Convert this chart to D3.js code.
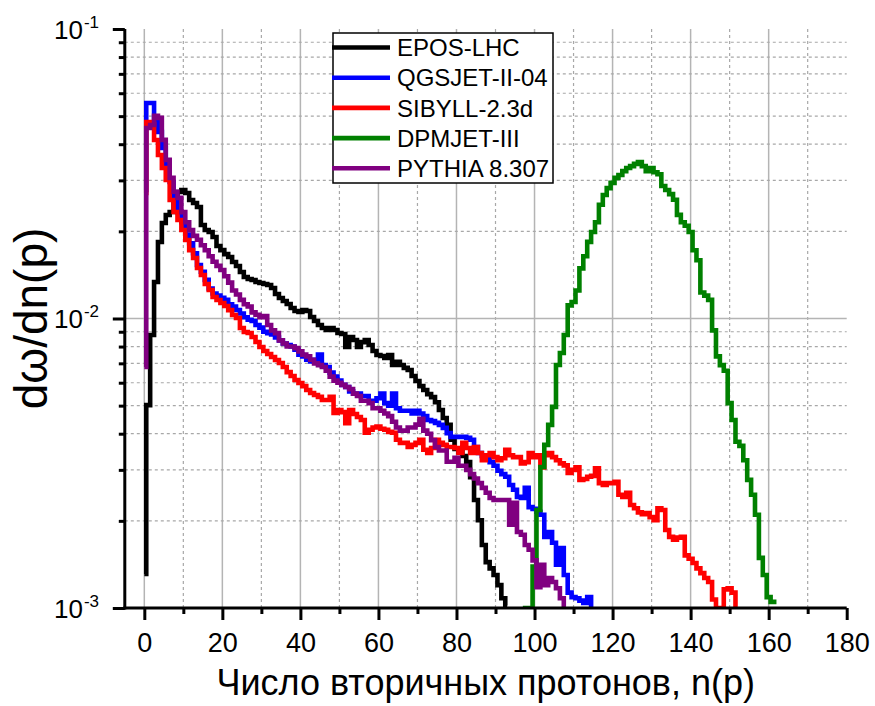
<!DOCTYPE html>
<html><head><meta charset="utf-8">
<script src="https://cdn.jsdelivr.net/npm/d3@7"></script>
<style>body{margin:0;background:#fff}text{font-family:"Liberation Sans",Arial,sans-serif;fill:#000}</style>
</head><body>
<svg id="chart" width="875" height="706"></svg>
<script>
// ---------- DATA ----------
const seriesNames = ["EPOS-LHC", "QGSJET-II-04", "SIBYLL-2.3d", "DPMJET-III", "PYTHIA 8.307"];
// first bin n(p) of each series
const seriesStart = [0, 0, 0, 97, 0];
const eposValues = [
0.00131,0.00502,0.00877,0.01337,0.01837,0.02138,0.02278,0.02333,0.02671,0.02735,
0.02779,0.02714,0.02566,0.02506,0.02427,0.02104,0.02021,0.01989,0.01912,0.01779,
0.01723,0.01669,0.01630,0.01567,0.01518,0.01447,0.01391,0.01369,0.01358,0.01337,
0.01327,0.01316,0.01306,0.01275,0.01215,0.01177,0.01149,0.01122,0.01087,0.01061,
0.01053,0.01070,0.01061,0.01012,0.00980,0.00950,0.00927,0.00913,0.00927,0.00913,
0.00891,0.00884,0.00797,0.00863,0.00843,0.00797,0.00829,0.00843,0.00810,0.00772,
0.00748,0.00742,0.00730,0.00748,0.00691,0.00708,0.00691,0.00675,0.00664,0.00633,
0.00608,0.00584,0.00566,0.00548,0.00535,0.00514,0.00483,0.00453,0.00429,0.00381,
0.00354,0.00346,0.00335,0.00319,0.00283,0.00236,0.00201,0.00165,0.00144,0.00137,
0.00130,0.00120,0.00108,0.00102];
const qgsjetValues = [
0.0278,0.0555,0.0555,0.0493,0.0441,0.0388,0.0339,0.0296,0.0261,0.0233,
0.0215,0.0195,0.0182,0.0168,0.0153,0.0145,0.0136,0.0127,0.0122,0.0120,
0.0118,0.0116,0.0112,0.0110,0.0107,0.0104,0.0101,0.0099,0.0098,0.0095,
0.0093,0.0090,0.0089,0.0088,0.0086,0.0084,0.0082,0.0081,0.0080,0.0078,
0.0075,0.0074,0.0072,0.0071,0.0072,0.0075,0.0069,0.0068,0.0065,0.0063,
0.0061,0.0059,0.0058,0.0056,0.0055,0.0055,0.0054,0.0054,0.0052,0.0052,
0.0053,0.0055,0.0051,0.0050,0.0055,0.0049,0.0048,0.0048,0.0048,0.0047,
0.0048,0.0047,0.0046,0.00446,0.00442,0.00436,0.00429,0.00419,0.00402,0.00390,
0.00390,0.00390,0.00390,0.00387,0.00381,0.00360,0.00343,0.00335,0.00332,0.00319,
0.00310,0.00298,0.00290,0.00284,0.00266,0.00256,0.00242,0.00240,0.00260,0.00223,
0.00220,0.00215,0.00210,0.00176,0.00183,0.00168,0.00141,0.00161,0.00130,0.00113,
0.00109,0.00108,0.00106,0.00104,0.00109,0.00100];
const sibyllValues = [
0.02712,0.04773,0.04698,0.04136,0.03670,0.03309,0.03008,0.02566,0.02332,0.02188,
0.02021,0.01866,0.01723,0.01618,0.01494,0.01413,0.01315,0.01254,0.01186,0.01158,
0.01131,0.01104,0.01069,0.01028,0.01004,0.00927,0.00898,0.00891,0.00863,0.00830,
0.00797,0.00772,0.00754,0.00736,0.00719,0.00702,0.00680,0.00653,0.00633,0.00613,
0.00599,0.00584,0.00566,0.00553,0.00544,0.00536,0.00523,0.00523,0.00536,0.00472,
0.00483,0.00475,0.00435,0.00483,0.00468,0.00457,0.00446,0.00403,0.00413,0.00420,
0.00423,0.00416,0.00413,0.00406,0.00403,0.00381,0.00372,0.00372,0.00360,0.00366,
0.00372,0.00381,0.00352,0.00343,0.00357,0.00381,0.00372,0.00366,0.00360,0.00360,
0.00357,0.00343,0.00372,0.00357,0.00343,0.00360,0.00343,0.00324,0.00337,0.00343,
0.00332,0.00324,0.00329,0.00352,0.00337,0.00332,0.00332,0.00316,0.00319,0.00343,
0.00332,0.00337,0.00306,0.00337,0.00343,0.00332,0.00324,0.00316,0.00311,0.00293,
0.00300,0.00306,0.00277,0.00279,0.00284,0.00286,0.00304,0.00270,0.00266,0.00270,
0.00270,0.00273,0.00246,0.00242,0.00250,0.00227,0.00221,0.00214,0.00211,0.00213,
0.00206,0.00201,0.00221,0.00218,0.00186,0.00176,0.00172,0.00175,0.00176,0.00152,
0.00148,0.00143,0.00137,0.00132,0.00127,0.00123,0.00107,0.00100,0.00100,0.00116,
0.00117,0.00113,0.00101];
const dpmjetValues = [
0.00100,0.00100,0.00100,0.00139,0.00218,0.00307,0.00366,0.00429,0.00495,0.00691,
0.00760,0.00877,0.0111,0.0114,0.0125,0.0149,0.0164,0.0184,0.0199,0.0215,
0.0247,0.0267,0.0282,0.0294,0.0306,0.0313,0.0323,0.0331,0.0336,0.0342,
0.0347,0.0336,0.0323,0.0331,0.0320,0.0315,0.0287,0.0278,0.0269,0.0257,
0.0228,0.0215,0.0209,0.0199,0.0172,0.0159,0.0123,0.0120,0.0116,0.0091,
0.0074,0.0069,0.0066,0.0051,0.00446,0.00375,0.00363,0.00324,0.00277,0.00246,
0.00210,0.00149,0.00130,0.00109,0.00105,0.00105];
const pythiaValues = [
0.0068,0.0455,0.0466,0.0501,0.0493,0.0414,0.0353,0.0306,0.0274,0.0261,
0.0233,0.0215,0.0202,0.0193,0.0187,0.0179,0.0172,0.0164,0.0157,0.0152,
0.0147,0.0140,0.0133,0.0125,0.0121,0.0116,0.0112,0.0110,0.0105,0.0103,
0.0101,0.0102,0.0095,0.0091,0.0089,0.0084,0.0082,0.0080,0.0080,0.0079,
0.0077,0.0075,0.0074,0.0072,0.0070,0.0069,0.0068,0.0066,0.0063,0.0061,
0.0060,0.0059,0.0058,0.0057,0.0055,0.0054,0.0052,0.0052,0.0051,0.0049,
0.0049,0.0048,0.0047,0.0046,0.0044,0.0042,0.0041,0.0041,0.0042,0.0042,
0.0043,0.0045,0.0041,0.0040,0.0038,0.0036,0.0035,0.0035,0.0032,0.0032,
0.0033,0.0031,0.0031,0.0030,0.0029,0.0028,0.0027,0.0026,0.0025,0.0024,
0.00236,0.00236,0.00236,0.00236,0.00194,0.00231,0.00183,0.00179,0.00165,0.00159,
0.00146,0.00118,0.00141,0.00120,0.00127,0.00123,0.00117,0.00108,0.00101];
const xMajorTicks = [0, 20, 40, 60, 80, 100, 120, 140, 160, 180];
const xMinorTicks = [10, 30, 50, 70, 90, 110, 130, 150, 170];
const yMajorTicks = [1e-3, 1e-2, 1e-1];
const yMajorLabels = [["10", "-3"], ["10", "-2"], ["10", "-1"]];
const yMinorTicks = [2e-3,3e-3,4e-3,5e-3,6e-3,7e-3,8e-3,9e-3,2e-2,3e-2,4e-2,5e-2,6e-2,7e-2,8e-2,9e-2];
const xTitle = "Число вторичных протонов, n(p)";
const yTitle = "dω/dn(p)";

// ---------- STYLE / LAYOUT ----------
const colors = ["#000000", "#0000ff", "#ff0000", "#008000", "#800080"];
const allValues = [eposValues, qgsjetValues, sibyllValues, dpmjetValues, pythiaValues];
const P = {left: 124.8, right: 846.7, top: 29, bottom: 608};

const svg = d3.select("#chart");
svg.append("rect").attr("width", 875).attr("height", 706).attr("fill", "#fff");

const x = d3.scaleLinear().domain([-5, 180]).range([P.left, P.right]);
const y = d3.scaleLog().domain([1e-3, 1e-1]).range([P.bottom, P.top]);

// grid
const grid = svg.append("g");
grid.selectAll(".gxm").data(xMajorTicks.filter(d => d < 180)).enter().append("line")
  .attr("x1", d => x(d)).attr("x2", d => x(d)).attr("y1", P.top).attr("y2", P.bottom)
  .attr("stroke", "#b4b4b4").attr("stroke-width", 1.5);
grid.selectAll(".gxn").data(xMinorTicks).enter().append("line")
  .attr("x1", d => x(d)).attr("x2", d => x(d)).attr("y1", P.top).attr("y2", P.bottom)
  .attr("stroke", "#a8a8a8").attr("stroke-width", 1.2).attr("stroke-dasharray", "3,3");
grid.selectAll(".gyn").data(yMinorTicks).enter().append("line")
  .attr("x1", P.left).attr("x2", P.right).attr("y1", d => y(d)).attr("y2", d => y(d))
  .attr("stroke", "#a8a8a8").attr("stroke-width", 1.2).attr("stroke-dasharray", "3,3");
grid.append("line").attr("x1", P.left).attr("x2", P.right).attr("y1", y(1e-2)).attr("y2", y(1e-2))
  .attr("stroke", "#b4b4b4").attr("stroke-width", 1.5);

// clip
svg.append("clipPath").attr("id", "clip").append("rect")
  .attr("x", P.left).attr("y", P.top - 3).attr("width", P.right - P.left).attr("height", P.bottom - P.top + 3);

const line = d3.line().x(d => x(d[0])).y(d => y(d[1])).curve(d3.curveStep);
const curves = svg.append("g").attr("clip-path", "url(#clip)");
allValues.forEach((vals, i) => {
  const pts = vals.map((v, k) => [seriesStart[i] + k, v]);
  curves.append("path").datum(pts).attr("d", line)
    .attr("fill", "none").attr("stroke", colors[i]).attr("stroke-width", 4.6)
    .attr("stroke-linejoin", "miter").attr("stroke-linecap", "butt");
});

// axes
const axX = svg.append("g").attr("transform", `translate(0,${P.bottom})`)
  .call(d3.axisBottom(x).tickValues(xMajorTicks).tickSize(12).tickSizeOuter(0).tickPadding(13).tickFormat(d3.format("d")));
const axXm = svg.append("g").attr("transform", `translate(0,${P.bottom})`)
  .call(d3.axisBottom(x).tickValues(xMinorTicks).tickSize(6).tickSizeOuter(0).tickFormat(""));
axXm.select(".domain").remove();
[axX, axXm].forEach(a => {
  a.selectAll("line").attr("stroke", "#000").attr("stroke-width", 3);
  a.selectAll(".domain").attr("stroke", "#000").attr("stroke-width", 3);
});
axX.selectAll("text").attr("font-size", 27).attr("font-family", '"Liberation Sans",Arial,sans-serif');

const axY = svg.append("g").attr("transform", `translate(${P.left},0)`)
  .call(d3.axisLeft(y).tickValues(yMajorTicks).tickSize(12).tickSizeOuter(0).tickFormat(""));
const axYm = svg.append("g").attr("transform", `translate(${P.left},0)`)
  .call(d3.axisLeft(y).tickValues(yMinorTicks).tickSize(6).tickSizeOuter(0).tickFormat(""));
axYm.select(".domain").remove();
[axY, axYm].forEach(a => {
  a.selectAll("line").attr("stroke", "#000").attr("stroke-width", 3);
  a.selectAll(".domain").attr("stroke", "#000").attr("stroke-width", 3);
});
axY.select(".domain").attr("d", `M0,${P.top}V${P.bottom + 1.5}`);
axX.select(".domain").attr("d", `M${P.left - 1.5},0H${P.right}`);

// y labels
yMajorTicks.forEach((t, i) => {
  const tx = svg.append("text").attr("x", 54).attr("y", y(t) + 9.5).attr("font-size", 26);
  tx.append("tspan").text(yMajorLabels[i][0]);
  tx.append("tspan").attr("dx", 1).attr("dy", -11).attr("font-size", 17).text(yMajorLabels[i][1]);
});

// titles
svg.append("text").attr("x", (P.left + P.right) / 2).attr("y", 695)
  .attr("text-anchor", "middle").attr("font-size", 36).text(xTitle);
svg.append("text").attr("transform", `translate(47,${(P.top + P.bottom) / 2}) rotate(-90)`)
  .attr("text-anchor", "middle").attr("font-size", 46).text(yTitle);

// legend
const lg = svg.append("g");
lg.append("rect").attr("x", 333).attr("y", 33).attr("width", 220).attr("height", 150)
  .attr("fill", "#fff").attr("stroke", "#000").attr("stroke-width", 1.5);
seriesNames.forEach((name, i) => {
  const cy = 47.5 + i * 30.2;
  lg.append("line").attr("x1", 332).attr("x2", 390).attr("y1", cy).attr("y2", cy)
    .attr("stroke", colors[i]).attr("stroke-width", 4.6);
  lg.append("text").attr("x", 397).attr("y", cy).attr("dy", "0.36em").attr("font-size", 24).text(name);
});
</script>
</body></html>
